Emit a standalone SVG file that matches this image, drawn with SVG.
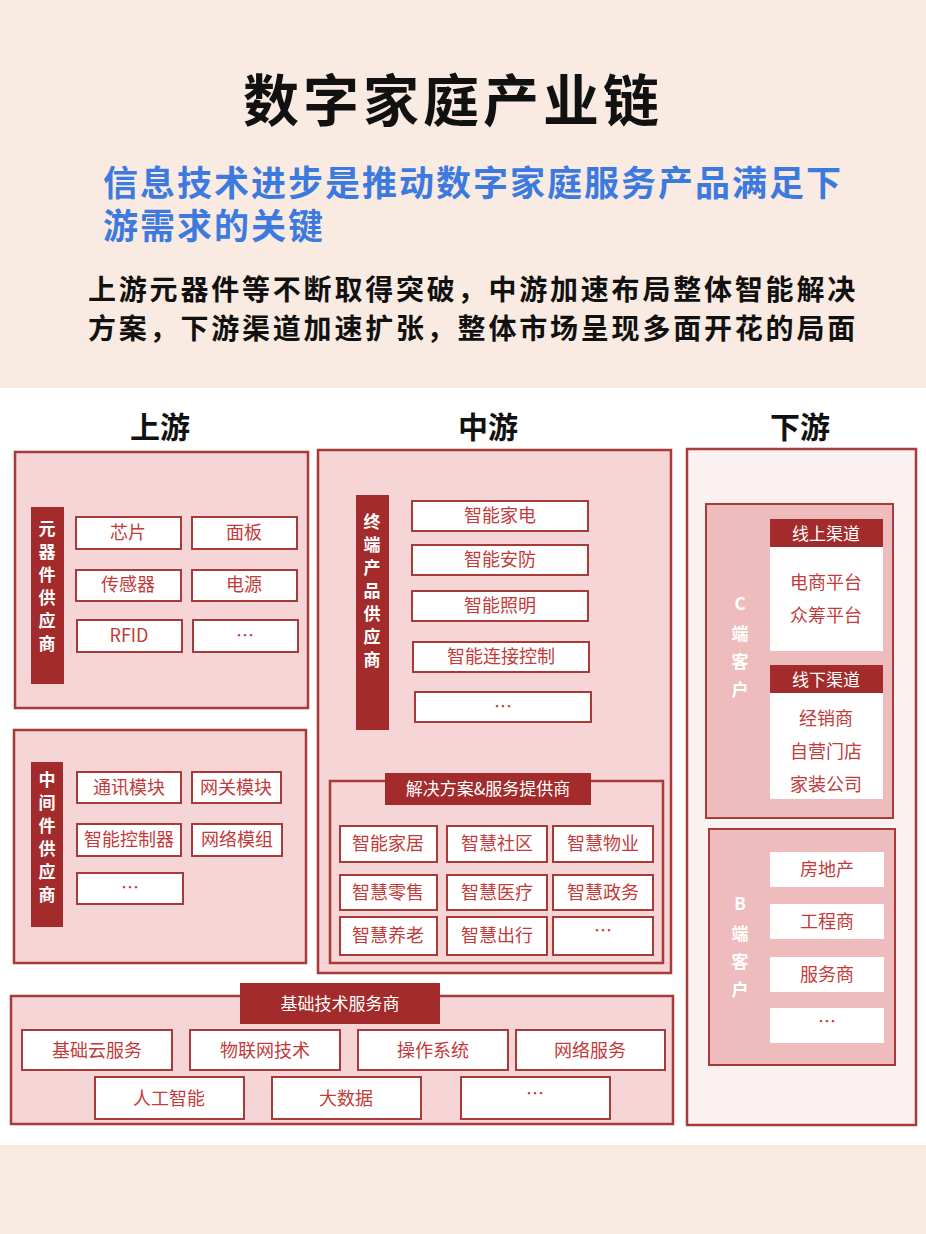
<svg xmlns="http://www.w3.org/2000/svg" width="926" height="1234" viewBox="0 0 926 1234">
<style>
text{font-family:"Noto Sans CJK SC","Liberation Sans",sans-serif}
.pan{fill:#f5d5d5;stroke:#a83a3a;stroke-width:2.5}
.bar{fill:#a32b2b}
.cell{fill:#fff;stroke:#a83a3a;stroke-width:2}
.ct{fill:#c23b3b;font-size:18px;text-anchor:middle}
.vt{fill:#fff;font-size:17px;text-anchor:middle;font-weight:bold}
.ht{fill:#fff;font-size:17px;text-anchor:middle}
.sec{fill:#111;font-size:30px;font-weight:bold;text-anchor:middle}
</style>
<rect width="926" height="1234" fill="#fff"/>
<rect width="926" height="388" fill="#f9ebe1"/>
<rect y="1145" width="926" height="89" fill="#f9ebe1"/>
<text x="453" y="121" font-size="56" font-weight="bold" text-anchor="middle" letter-spacing="4" fill="#111">数字家庭产业链</text>
<text x="103" y="196" font-size="35" font-weight="bold" letter-spacing="2" fill="#3d7ae0">信息技术进步是推动数字家庭服务产品满足下</text>
<text x="103" y="239" font-size="35" font-weight="bold" letter-spacing="2" fill="#3d7ae0">游需求的关键</text>
<text x="88" y="300" font-size="28" font-weight="bold" letter-spacing="2.8" fill="#111">上游元器件等不断取得突破，中游加速布局整体智能解决</text>
<text x="88" y="339" font-size="28" font-weight="bold" letter-spacing="2.8" fill="#111">方案，下游渠道加速扩张，整体市场呈现多面开花的局面</text>
<text class="sec" x="160" y="438">上游</text>
<text class="sec" x="488" y="438">中游</text>
<text class="sec" x="800" y="438">下游</text>

<g id="components">
<rect class="pan" x="15" y="452" width="293" height="256"/>
<rect class="bar" x="31" y="507" width="33" height="177"/>
<text class="vt"><tspan x="47" y="535">元</tspan><tspan x="47" y="558">器</tspan><tspan x="47" y="581">件</tspan><tspan x="47" y="604">供</tspan><tspan x="47" y="627">应</tspan><tspan x="47" y="650">商</tspan></text>
<rect class="cell" x="76" y="517" width="105" height="32"/><text class="ct" x="128" y="539">芯片</text>
<rect class="cell" x="192" y="517" width="105" height="32"/><text class="ct" x="244" y="539">面板</text>
<rect class="cell" x="76" y="570" width="105" height="31"/><text class="ct" x="128" y="591">传感器</text>
<rect class="cell" x="192" y="570" width="105" height="31"/><text class="ct" x="244" y="591">电源</text>
<rect class="cell" x="77" y="620" width="105" height="32"/><text class="ct" x="129" y="642">RFID</text>
<rect class="cell" x="193" y="620" width="105" height="32"/><text class="ct" x="245" y="642">…</text>
</g>

<g id="middleware">
<rect class="pan" x="14" y="730" width="292" height="233"/>
<rect class="bar" x="31" y="762" width="32" height="165"/>
<text class="vt"><tspan x="47" y="786">中</tspan><tspan x="47" y="809">间</tspan><tspan x="47" y="832">件</tspan><tspan x="47" y="855">供</tspan><tspan x="47" y="878">应</tspan><tspan x="47" y="901">商</tspan></text>
<rect class="cell" x="77" y="772" width="104" height="31"/><text class="ct" x="129" y="794">通讯模块</text>
<rect class="cell" x="192" y="772" width="89" height="31"/><text class="ct" x="236" y="794">网关模块</text>
<rect class="cell" x="77" y="824" width="104" height="32"/><text class="ct" x="129" y="846">智能控制器</text>
<rect class="cell" x="192" y="824" width="90" height="32"/><text class="ct" x="237" y="846">网络模组</text>
<rect class="cell" x="77" y="873" width="106" height="31"/><text class="ct" x="130" y="894">…</text>
</g>

<g id="terminal">
<rect class="pan" x="318" y="450" width="353" height="523"/>
<rect class="bar" x="356" y="495" width="33" height="235"/>
<text class="vt"><tspan x="372" y="528">终</tspan><tspan x="372" y="551">端</tspan><tspan x="372" y="574">产</tspan><tspan x="372" y="597">品</tspan><tspan x="372" y="620">供</tspan><tspan x="372" y="643">应</tspan><tspan x="372" y="666">商</tspan></text>
<rect class="cell" x="412" y="501" width="176" height="30"/><text class="ct" x="500" y="522">智能家电</text>
<rect class="cell" x="412" y="545" width="176" height="30"/><text class="ct" x="500" y="566">智能安防</text>
<rect class="cell" x="412" y="591" width="176" height="30"/><text class="ct" x="500" y="612">智能照明</text>
<rect class="cell" x="413" y="642" width="176" height="30"/><text class="ct" x="501" y="663">智能连接控制</text>
<rect class="cell" x="415" y="692" width="176" height="30"/><text class="ct" x="503" y="713">…</text>
</g>

<g id="solutions">
<rect class="pan" x="330" y="781" width="333" height="182" stroke-width="2"/>
<rect class="bar" x="385" y="773" width="206" height="32"/>
<text class="ht" x="488" y="795">解决方案&amp;服务提供商</text>
<rect class="cell" x="340" y="826" width="97" height="36"/><text class="ct" x="388" y="850">智能家居</text>
<rect class="cell" x="447" y="826" width="100" height="36"/><text class="ct" x="497" y="850">智慧社区</text>
<rect class="cell" x="553" y="826" width="100" height="36"/><text class="ct" x="603" y="850">智慧物业</text>
<rect class="cell" x="340" y="875" width="97" height="35"/><text class="ct" x="388" y="899">智慧零售</text>
<rect class="cell" x="447" y="875" width="100" height="35"/><text class="ct" x="497" y="899">智慧医疗</text>
<rect class="cell" x="553" y="875" width="100" height="35"/><text class="ct" x="603" y="899">智慧政务</text>
<rect class="cell" x="340" y="917" width="97" height="38"/><text class="ct" x="388" y="942">智慧养老</text>
<rect class="cell" x="447" y="917" width="100" height="38"/><text class="ct" x="497" y="942">智慧出行</text>
<rect class="cell" x="553" y="917" width="100" height="38"/><text class="ct" x="603" y="937">…</text>
</g>

<g id="infrastructure">
<rect class="pan" x="11" y="996" width="662" height="128"/>
<rect class="bar" x="240" y="983" width="200" height="41"/>
<text class="ht" x="340" y="1010">基础技术服务商</text>
<rect class="cell" x="22" y="1030" width="150" height="40"/><text class="ct" x="97" y="1057">基础云服务</text>
<rect class="cell" x="190" y="1030" width="150" height="40"/><text class="ct" x="265" y="1057">物联网技术</text>
<rect class="cell" x="358" y="1030" width="150" height="40"/><text class="ct" x="433" y="1057">操作系统</text>
<rect class="cell" x="516" y="1030" width="149" height="40"/><text class="ct" x="590" y="1057">网络服务</text>
<rect class="cell" x="95" y="1077" width="149" height="42"/><text class="ct" x="169" y="1105">人工智能</text>
<rect class="cell" x="272" y="1077" width="149" height="42"/><text class="ct" x="346" y="1105">大数据</text>
<rect class="cell" x="461" y="1077" width="149" height="42"/><text class="ct" x="535" y="1100">…</text>
</g>

<g id="downstream">
<rect x="687" y="449" width="229" height="676" fill="#fcf1f1" stroke="#a83a3a" stroke-width="2.5"/>
</g>

<g id="c-customers">
<rect x="706" y="504" width="187" height="314" fill="#efbcbe" stroke="#a83a3a" stroke-width="2"/>
<text class="vt" font-size="20"><tspan x="740" y="610">C</tspan><tspan x="740" y="640">端</tspan><tspan x="740" y="668">客</tspan><tspan x="740" y="696">户</tspan></text>
<rect class="bar" x="770" y="519" width="113" height="28"/><text class="ht" x="826" y="540">线上渠道</text>
<rect x="770" y="547" width="113" height="104" fill="#fff"/>
<text class="ct" x="826" y="589">电商平台</text><text class="ct" x="826" y="622">众筹平台</text>
<rect class="bar" x="770" y="665" width="113" height="28"/><text class="ht" x="826" y="686">线下渠道</text>
<rect x="770" y="693" width="113" height="106" fill="#fff"/>
<text class="ct" x="826" y="725">经销商</text><text class="ct" x="826" y="758">自营门店</text><text class="ct" x="826" y="791">家装公司</text>
</g>

<g id="b-customers">
<rect x="709" y="829" width="186" height="236" fill="#efbcbe" stroke="#a83a3a" stroke-width="2"/>
<text class="vt" font-size="20"><tspan x="740" y="910">B</tspan><tspan x="740" y="940">端</tspan><tspan x="740" y="968">客</tspan><tspan x="740" y="996">户</tspan></text>
<rect x="770" y="852" width="114" height="35" fill="#fff"/><text class="ct" x="827" y="876">房地产</text>
<rect x="770" y="904" width="114" height="35" fill="#fff"/><text class="ct" x="827" y="928">工程商</text>
<rect x="770" y="957" width="114" height="35" fill="#fff"/><text class="ct" x="827" y="981">服务商</text>
<rect x="770" y="1008" width="114" height="35" fill="#fff"/><text class="ct" x="827" y="1028">…</text>
</g>
<g id="connectors"/>
</svg>
